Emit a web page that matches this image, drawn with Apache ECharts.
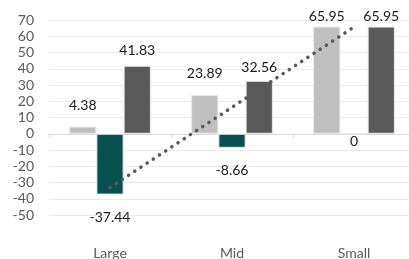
<!DOCTYPE html>
<html>
<head>
<meta charset="utf-8">
<script src="https://cdn.jsdelivr.net/npm/echarts@6/dist/echarts.min.js"></script>
<style>
  html, body { margin: 0; padding: 0; background: #fff; }
  #chart { width: 409px; height: 259px; }
</style>
</head>
<body>
<div id="chart"></div>
<script>
// 分类与数据
const categories = ['Large', 'Mid', 'Small']
const lightValues = [4.38, 23.89, 65.95]
const tealValues = [-37.44, -8.66, 0]
const darkValues = [41.83, 32.56, 65.95]
// 趋势线（虚点线）
const trendValues = [-33.1, 16.3, 65.7]

const font = 'Lato, "Liberation Sans", sans-serif'

// 标签距离，按图上位置微调
const lightDist = [14, 14, 3]
const tealDist = [16, 16, 0]
const darkDist = [8, 6, 3]

function withLabels(values, dists) {
  return values.map((v, i) => ({ value: v, label: { distance: dists[i] } }))
}

const chart = echarts.init(document.getElementById('chart'))
chart.setOption({
  animation: false,
  backgroundColor: '#fff',
  grid: { left: 49, top: 20, width: 366, height: 195, containLabel: false, outerBoundsMode: 'none' },
  xAxis: [
    {
      // 底部分类标签
      type: 'category',
      data: categories,
      position: 'bottom',
      axisLine: { show: false, onZero: false },
      axisTick: { show: false },
      axisLabel: { margin: 31, color: '#595959', fontSize: 14, fontFamily: font }
    },
    {
      // 零线与刻度
      type: 'category',
      data: categories,
      position: 'bottom',
      axisLine: { onZero: true, lineStyle: { color: '#d9d9d9', width: 1 } },
      axisTick: { show: true, length: 4, lineStyle: { color: '#d9d9d9' } },
      axisLabel: { show: false }
    }
  ],
  yAxis: {
    type: 'value',
    min: -50,
    max: 70,
    interval: 10,
    axisLine: { show: false },
    axisTick: { show: false },
    axisLabel: { margin: 15, color: '#595959', fontSize: 14, fontFamily: font },
    splitLine: { lineStyle: { color: '#efeadd', width: 1 } }
  },
  series: [
    {
      type: 'bar',
      data: withLabels(lightValues, lightDist),
      barGap: '0%',
      barCategoryGap: '33%',
      itemStyle: { color: '#bfbfbf', borderColor: '#e8e8e8', borderWidth: 1 },
      label: { show: true, position: 'top', color: '#1a1a1a', fontSize: 14, fontFamily: font }
    },
    {
      type: 'bar',
      data: withLabels(tealValues, tealDist),
      itemStyle: { color: '#07504f', borderColor: '#e8e8e8', borderWidth: 1 },
      label: { show: true, position: 'bottom', color: '#1a1a1a', fontSize: 14, fontFamily: font }
    },
    {
      type: 'bar',
      data: withLabels(darkValues, darkDist),
      itemStyle: { color: '#595959', borderColor: '#e8e8e8', borderWidth: 1 },
      label: { show: true, position: 'top', color: '#1a1a1a', fontSize: 14, fontFamily: font }
    },
    {
      type: 'line',
      data: trendValues,
      symbol: 'none',
      z: 5,
      lineStyle: { color: '#595959', width: 3.5, type: [0.1, 7.3], cap: 'round' }
    }
  ]
})
</script>
</body>
</html>
